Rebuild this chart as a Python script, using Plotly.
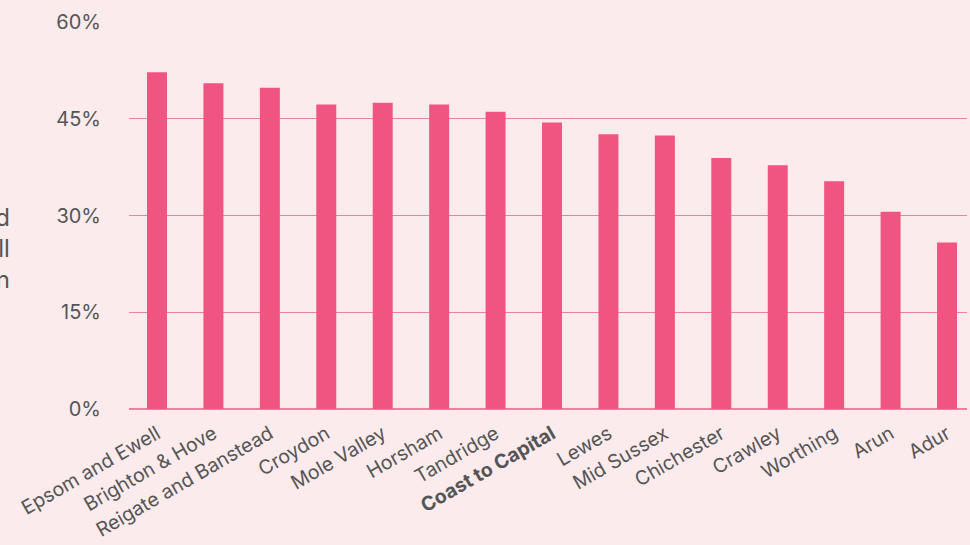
import plotly.graph_objects as go

categories = ["Epsom and Ewell", "Brighton & Hove", "Reigate and Banstead", "Croydon",
              "Mole Valley", "Horsham", "Tandridge", "<b>Coast to Capital</b>", "Lewes",
              "Mid Sussex", "Chichester", "Crawley", "Worthing", "Arun", "Adur"]
values = [52.2, 50.5, 49.8, 47.2, 47.5, 47.2, 46.1, 44.4, 42.6, 42.4, 38.9, 37.8, 35.3, 30.6, 25.8]
y_ticks = [0, 15, 30, 45, 60]
y_tick_labels = ["0%", "15%", "30%", "45%", "60%"]

W, H = 970, 545
L, R, T, B = 129, 3, 22, 133

bg = "#fcebec"
bar_col = "#f05480"
grid_col = "#f07f9e"
txt = "#555555"
font_family = "Inter, 'Open Sans', sans-serif"

fig = go.Figure(go.Bar(x=categories, y=values, marker=dict(color=bar_col, line=dict(width=0)),
                       hoverinfo="x+y"))

fig.update_layout(
    width=W, height=H,
    margin=dict(l=L, r=R, t=T, b=B, pad=0),
    paper_bgcolor=bg, plot_bgcolor=bg,
    bargap=0.646,
    showlegend=False,
    font=dict(family=font_family, color=txt, size=19),
    xaxis=dict(type="category", range=[-0.496, 14.354], tickangle=-30,
               showgrid=False, showline=False, zeroline=False,
               ticks="outside", ticklen=5, tickcolor=bg,
               tickfont=dict(size=19.5, color=txt, family=font_family)),
    yaxis=dict(range=[0, 60], tickvals=y_ticks, ticktext=y_tick_labels,
               showgrid=True, gridcolor=grid_col, gridwidth=1,
               zeroline=True, zerolinecolor=grid_col, zerolinewidth=1.5,
               showline=False, ticks="outside", ticklen=23, tickcolor=bg,
               tickfont=dict(size=20, color=txt, family=font_family)),
    annotations=[dict(
        text="Share of residents qualified<br>to RQF4+ level, overall<br>by location",
        xref="paper", yref="paper",
        x=-(L - 12) / (W - L - R), xanchor="right",
        y=(H - B - 250) / (H - T - B), yanchor="middle",
        align="right", showarrow=False,
        font=dict(size=24, color=txt, family=font_family))],
)

fig.write_html("out.html", config={"displayModeBar": False},
               post_script="document.body.style.margin='0';document.body.style.padding='0';"
                           "document.documentElement.style.background='%s';" % bg)
